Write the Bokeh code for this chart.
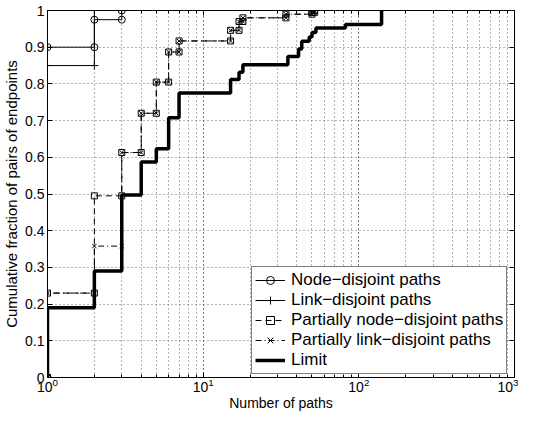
from bokeh.plotting import figure
from bokeh.models import (LogAxis, LinearAxis, FixedTicker, LogTicker, CustomJSTickFormatter,
                          Range1d, Legend, LegendItem)
from bokeh.embed import file_html
from bokeh.resources import INLINE

# ---- data (step CDFs) ----
node_x = [1, 1, 2, 3]
node_y = [0.0, 0.90, 0.975, 1.0]

link_x = [1, 1, 2]
link_y = [0.0, 0.85, 1.0]

pnode_x = [1, 1, 2, 3, 4, 5, 6, 7, 15, 17, 18, 34, 50, 52]
pnode_y = [0.0, 0.23, 0.495, 0.613, 0.72, 0.805, 0.887, 0.917, 0.946, 0.97, 0.98, 0.99, 0.995, 1.0]

plink_x = [1, 1, 2, 3, 4, 5, 6, 7, 15, 17, 18, 34, 50, 52]
plink_y = [0.0, 0.23, 0.358, 0.613, 0.72, 0.805, 0.887, 0.917, 0.946, 0.97, 0.98, 0.99, 0.995, 1.0]

limit_x = [1, 1, 2, 3, 4, 5, 6, 7, 15, 17, 18, 35, 41, 43, 48, 50, 53, 82, 140]
limit_y = [0.0, 0.19, 0.29, 0.497, 0.587, 0.623, 0.708, 0.775, 0.812, 0.832, 0.852,
           0.875, 0.895, 0.916, 0.928, 0.94, 0.952, 0.962, 1.0]

y_ticks = [0.0, 0.1, 0.2, 0.3, 0.4, 0.5, 0.6, 0.7, 0.8, 0.9, 1.0]

labels = ["Node\u2212disjoint paths", "Link\u2212disjoint paths",
          "Partially node\u2212disjoint paths", "Partially link\u2212disjoint paths", "Limit"]


def stairs(x, y):
    xs, ys = [], []
    for i in range(len(x)):
        if i > 0:
            xs.append(x[i]); ys.append(y[i - 1])
        xs.append(x[i]); ys.append(y[i])
    return xs, ys


FONT = "Liberation Sans"

p = figure(width=518, height=413, x_axis_type="log", output_backend="svg", toolbar_location=None,
           x_range=Range1d(1, 1000), y_range=Range1d(0, 1),
           min_border_left=47, min_border_right=4, min_border_top=10, min_border_bottom=30)
p.background_fill_color = "white"
p.border_fill_color = "white"
p.outline_line_color = "black"
p.outline_line_width = 1

xticker = LogTicker(mantissas=[1], desired_num_ticks=4, num_minor_ticks=10)
yticker = FixedTicker(ticks=y_ticks)

xa = p.xaxis[0]
xa.ticker = xticker
ya = p.yaxis[0]
ya.ticker = yticker
ya.formatter = CustomJSTickFormatter(code="return (Math.round(tick*10)/10).toString();")

for ax in (xa, ya):
    ax.major_tick_in = 5
    ax.major_tick_out = 0
    ax.minor_tick_in = 3
    ax.minor_tick_out = 0
    ax.axis_line_color = "black"
    ax.major_label_text_font = FONT
    ax.major_label_text_font_size = "14px"
    ax.major_label_text_color = "black"
    ax.axis_label_text_font = FONT
    ax.axis_label_text_font_style = "normal"
    ax.axis_label_text_color = "black"

xa.axis_label = "Number of paths"
xa.axis_label_text_font_size = "14px"
xa.major_label_standoff = 0
xa.axis_label_standoff = 0
ya.axis_label = "Cumulative fraction of pairs of endpoints"
ya.axis_label_text_font_size = "15px"
ya.major_label_standoff = 3
ya.axis_label_standoff = 2
ya.minor_tick_line_color = None

blank = CustomJSTickFormatter(code="return '';")
top = LogAxis(ticker=xticker, formatter=blank, major_tick_in=5, major_tick_out=0,
              minor_tick_in=3, minor_tick_out=0, major_label_standoff=0,
              major_label_text_font_size="0px")
right = LinearAxis(ticker=yticker, formatter=blank, major_tick_in=5, major_tick_out=0,
                   minor_tick_line_color=None, major_label_standoff=0,
                   major_label_text_font_size="0px")
p.add_layout(top, "above")
p.add_layout(right, "right")

p.xgrid.ticker = xticker
p.ygrid.ticker = yticker
for g in (p.xgrid[0], p.ygrid[0]):
    g.grid_line_color = "#666666"
    g.grid_line_dash = "1 3"
    g.grid_line_width = 1
p.xgrid[0].minor_grid_line_color = "#666666"
p.xgrid[0].minor_grid_line_dash = "1 3"

items = []

xs, ys = stairs(node_x, node_y)
l1 = p.line(xs, ys, line_color="black", line_width=1)
m1 = p.scatter(xs, ys, marker="circle", size=7, fill_color=None, line_color="black", line_width=1)
items.append(LegendItem(label=labels[0], renderers=[l1, m1]))

xs, ys = stairs(link_x, link_y)
l2 = p.line(xs, ys, line_color="black", line_width=1)
m2 = p.scatter(xs, ys, marker="cross", size=8, line_color="black", line_width=1)
items.append(LegendItem(label=labels[1], renderers=[l2, m2]))

xs, ys = stairs(pnode_x, pnode_y)
l3 = p.line(xs, ys, line_color="black", line_width=1, line_dash="6 4")
m3 = p.scatter(xs, ys, marker="square", size=6, fill_color=None, line_color="black", line_width=1)
items.append(LegendItem(label=labels[2], renderers=[l3, m3]))

xs, ys = stairs(plink_x, plink_y)
l4 = p.line(xs, ys, line_color="black", line_width=1, line_dash="6 3 1 3")
m4 = p.scatter(xs, ys, marker="x", size=6, line_color="black", line_width=1)
items.append(LegendItem(label=labels[3], renderers=[l4, m4]))

xs, ys = stairs(limit_x, limit_y)
l5 = p.line(xs, ys, line_color="black", line_width=3.5)
items.append(LegendItem(label=labels[4], renderers=[l5]))

legend = Legend(items=items, location=(204, 3), orientation="vertical")
legend.border_line_color = "black"
legend.border_line_width = 1
legend.background_fill_color = "white"
legend.background_fill_alpha = 1
legend.label_text_font = FONT
legend.label_text_font_size = "17px"
legend.label_text_color = "black"
legend.glyph_width = 30
legend.glyph_height = 20
legend.label_height = 20
legend.label_standoff = 6
legend.padding = 3
legend.spacing = 0
legend.margin = 0
p.add_layout(legend, "center")

open("out.html", "w").write(file_html(p, INLINE))
